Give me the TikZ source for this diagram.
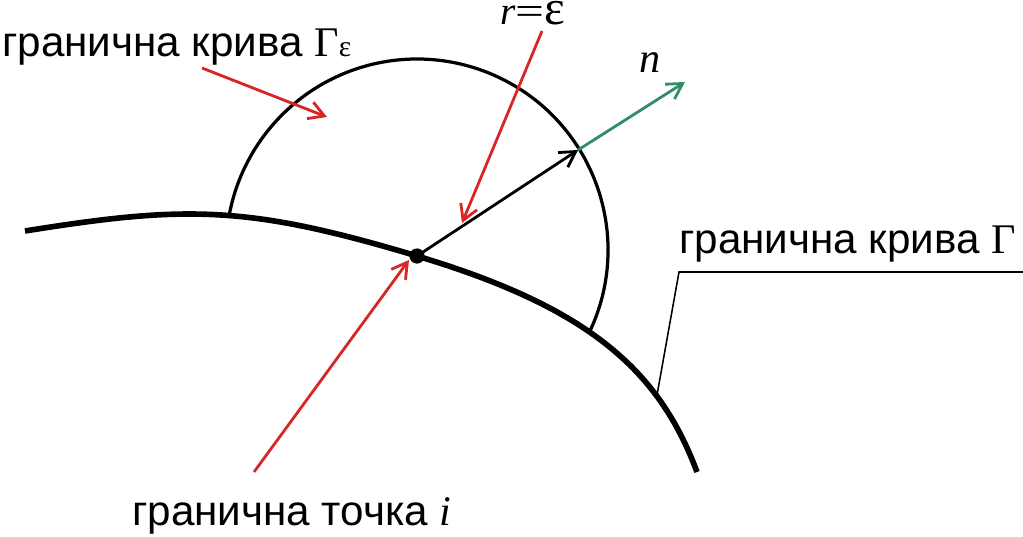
\documentclass[tikz,border=0pt]{standalone}
\usepackage{fontspec}
\setmainfont{Liberation Serif}
\setsansfont{Liberation Sans}
\usetikzlibrary{arrows.meta}
\definecolor{arrred}{RGB}{214,38,38}
\definecolor{arrgreen}{RGB}{50,140,104}
\tikzset{
    boundary/.style={line width=4pt},
    contour/.style={line width=2.3pt},
    leader/.style={line width=1.1pt},
    barb/.style={-{Straight Barb[length=0.38cm, width=0.44cm]}, line width=2pt},
    redarrow/.style={barb, draw=arrred},
    greenarrow/.style={barb, draw=arrgreen},
    blackarrow/.style={barb, draw=black},
    cyrlabel/.style={font=\sffamily\fontsize{30}{32}\selectfont, inner sep=0pt, anchor=base west},
    mathlabel/.style={font=\rmfamily\fontsize{28}{30}\selectfont, inner sep=0pt, anchor=base}
}

\begin{document}
\begin{tikzpicture}[x=0.025cm, y=-0.025cm]
            \useasboundingbox (0,0) rectangle (1023,537);
            % points of the picture
            \coordinate (i) at (417,256);
            \coordinate (c) at (417,250);
            \coordinate (rtip) at (578,150);
            \coordinate (ntip) at (685,82);
            \coordinate (rstart) at (542,31);
            \coordinate (rend) at (462,223);
            \coordinate (gestart) at (202,68);
            \coordinate (geend) at (327,117);
            \coordinate (pistart) at (254,472);
            \coordinate (piend) at (409,260);
            \coordinate (leadfoot) at (657,395);
            \coordinate (leadknee) at (679,272);
            \coordinate (leadend) at (1023,272);

            % boundary curve and half circle
            \draw[boundary] (25,231) .. controls (185,205.4) and (247,205) .. (i)
                .. controls (587,307) and (658.5,368.6) .. (697,472);
            \draw[contour] (c) ++(26:191) arc[start angle=26, end angle=-169, radius=191];
            \fill (i) circle[radius=0.19cm];

            % labels
            \node (lblge) [cyrlabel] at (2,57) {гранична крива {\rmfamily Γ\fontsize{21}{21}\selectfont ε}};
            \node (lblg) [cyrlabel] at (679,253) {гранична крива {\rmfamily Γ}};
            \node (lbli) [cyrlabel] at (132,525) {гранична точка {\rmfamily\itshape i}};
            \node (lblr) [mathlabel] at (533,25) {{\itshape r}\scalebox{1.3}[1]{=}\scalebox{1.25}{ε}};
            \node (lbln) [mathlabel, font=\rmfamily\fontsize{30}{32}\selectfont] at (650,73) {\itshape n};

            % arrows
            \draw[blackarrow] (i) -- (rtip);
            \draw[greenarrow] (rtip) -- (ntip);
            \draw[redarrow] (rstart) -- (rend);
            \draw[redarrow] (gestart) -- (geend);
            \draw[redarrow] (pistart) -- (piend);
            \draw[leader] (leadfoot) -- (leadknee) -- (leadend);
        \end{tikzpicture}
\end{document}
